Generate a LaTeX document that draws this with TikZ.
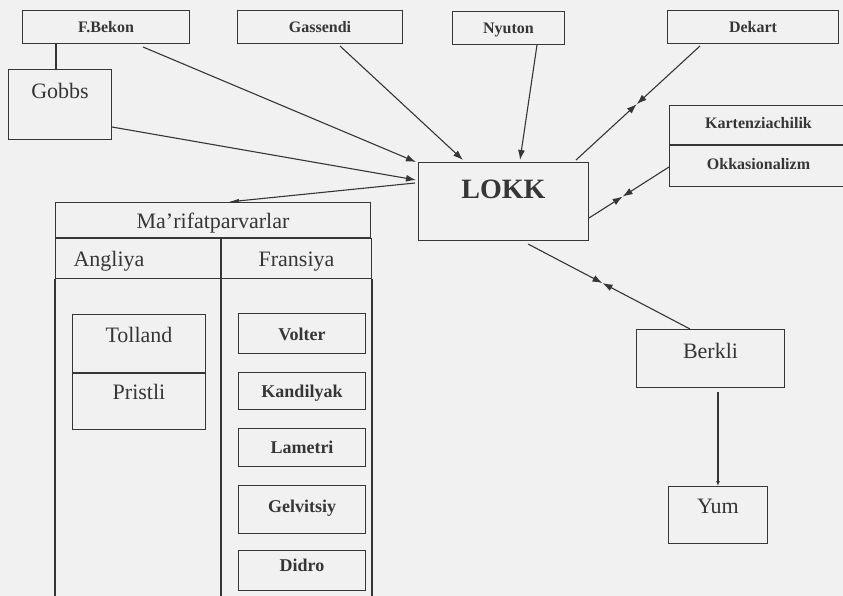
\documentclass[tikz,border=0pt]{standalone}
\usepackage{fontspec}
\setmainfont{Liberation Serif}
\usetikzlibrary{arrows.meta,calc}
\definecolor{inkgray}{HTML}{363636}
\definecolor{papergray}{HTML}{f1f1f1}

\tikzset{
  box/.style={draw=inkgray, line width=1pt, text=inkgray, inner sep=0pt, anchor=north west},
  cell/.style n args={3}{minimum width=#1, text height=#2, text depth=#3},
  toptxt/.style={font=\fontsize{16}{19}\selectfont\bfseries},
  frtxt/.style={font=\fontsize{18}{21}\selectfont\bfseries},
  bigtxt/.style={font=\fontsize{22}{26}\selectfont},
  rule/.style={draw=inkgray, line width=1.1pt},
  link/.style={rule, -{Latex[length=10pt,width=7pt]}},
}

\begin{document}
\begin{tikzpicture}[x=1pt,y=-1pt]
  \fill[papergray] (0,0) rectangle (843,596);
  \useasboundingbox (0,0) rectangle (843,596);

  % top row
  \node[box, toptxt, cell={167pt}{22pt}{11pt}] (bekon) at (22,10) {F.Bekon};
  \node[box, toptxt, cell={165pt}{22pt}{11pt}] (gassendi) at (237,10) {Gassendi};
  \node[box, toptxt, cell={112pt}{22pt}{11pt}] (nyuton) at (452,11) {Nyuton};
  \node[box, toptxt, cell={171pt}{22pt}{11pt}] (dekart) at (667,10) {Dekart};

  \node[box, bigtxt, cell={103pt}{29pt}{41pt}] (gobbs) at (8,69) {Gobbs};
  \node[box, font=\fontsize{28}{32}\selectfont\bfseries, cell={170pt}{36pt}{42pt}] (lokk) at (418,162) {LOKK};

  \node[box, toptxt, cell={178pt}{23pt}{16pt}] (karten) at (669,105) {Kartenziachilik};
  \node[box, toptxt, cell={178pt}{24pt}{17pt}] (okkas) at (karten.south west) {Okkasionalizm};

  % Ma'rifatparvarlar table
  \node[box, bigtxt, cell={315pt}{26pt}{9pt}] (marif) at (55,202) {Ma’rifatparvarlar};
  \node[box, bigtxt, cell={165pt}{28pt}{12pt}, text width=129pt, inner xsep=18pt, align=left] (angliya) at (marif.south west) {Angliya};
  \node[box, bigtxt, cell={150pt}{28pt}{12pt}] (fransiya) at (angliya.north east) {Fransiya};
  \draw[rule] (angliya.south west) -- (angliya.south west |- 0,600);
  \draw[rule] (angliya.south east) -- (angliya.south east |- 0,600);
  \draw[rule] (fransiya.south east) -- (fransiya.south east |- 0,600);

  \node[box, bigtxt, cell={133pt}{28pt}{30pt}] (tolland) at (72,314) {Tolland};
  \node[box, bigtxt, cell={133pt}{26pt}{30pt}] (pristli) at (tolland.south west) {Pristli};

  \node[box, frtxt, cell={127pt}{27pt}{13pt}] (volter) at (238,313) {Volter};
  \node[box, frtxt, cell={127pt}{25pt}{12pt}] (kandilyak) at (238,372) {Kandilyak};
  \node[box, frtxt, cell={127pt}{25pt}{13pt}] (lametri) at (238,428) {Lametri};
  \node[box, frtxt, cell={127pt}{27pt}{21pt}] (gelvitsiy) at (238,485) {Gelvitsiy};
  \node[box, frtxt, cell={127pt}{21pt}{19pt}] (didro) at (238,550) {Didro};

  \node[box, bigtxt, cell={148pt}{29pt}{29pt}] (berkli) at (636,329) {Berkli};
  \node[box, bigtxt, cell={99pt}{27pt}{30pt}] (yum) at (668,486) {Yum};

  % connectors
  \draw[rule] ([xshift=48pt]gobbs.north west) -- ([xshift=48pt]gobbs.north west |- bekon.south);
  \draw[link] ([xshift=121pt,yshift=-3pt]bekon.south west) -- ([xshift=-2pt]lokk.north west);
  \draw[link] ([xshift=103pt,yshift=-2pt]gassendi.south west) -- ([xshift=45pt,yshift=2pt]lokk.north west);
  \draw[link] ([xshift=85pt]nyuton.south west) -- ([xshift=102pt,yshift=2pt]lokk.north west);
  \draw[link] ([yshift=13pt]gobbs.south east) -- ([xshift=-2pt,yshift=-18pt]lokk.north west);
  \draw[rule, -{Latex[length=11pt,width=4pt]}] ([xshift=-3pt,yshift=-21pt]lokk.north west) -- ([xshift=15pt]marif.north);

  \coordinate (dk) at ([xshift=33pt,yshift=-2pt]dekart.south west);
  \coordinate (dklk) at ([xshift=-13pt,yshift=2pt]lokk.north east);
  \coordinate (dkmid) at ($(dk)!0.51!(dklk)$);
  \draw[link] (dk) -- (dkmid);
  \draw[link] (dklk) -- (dkmid);

  \coordinate (ok) at ([yshift=-22pt]okkas.north west);
  \coordinate (oklk) at ([yshift=-56pt]lokk.north east);
  \coordinate (okmid) at ($(ok)!0.58!(oklk)$);
  \draw[link] (ok) -- (okmid);
  \draw[link] (oklk) -- (okmid);

  \coordinate (bk) at ([xshift=54pt]berkli.north west);
  \coordinate (bklk) at ([xshift=-61pt,yshift=-3pt]lokk.south east);
  \coordinate (bkmid) at ($(bklk)!0.46!(bk)$);
  \draw[link] (bk) -- (bkmid);
  \draw[link] (bklk) -- (bkmid);

  \draw[rule, -{Latex[length=5pt,width=4pt]}] ([yshift=-4pt]yum.north |- berkli.south) -- (yum.north);
\end{tikzpicture}
\end{document}
